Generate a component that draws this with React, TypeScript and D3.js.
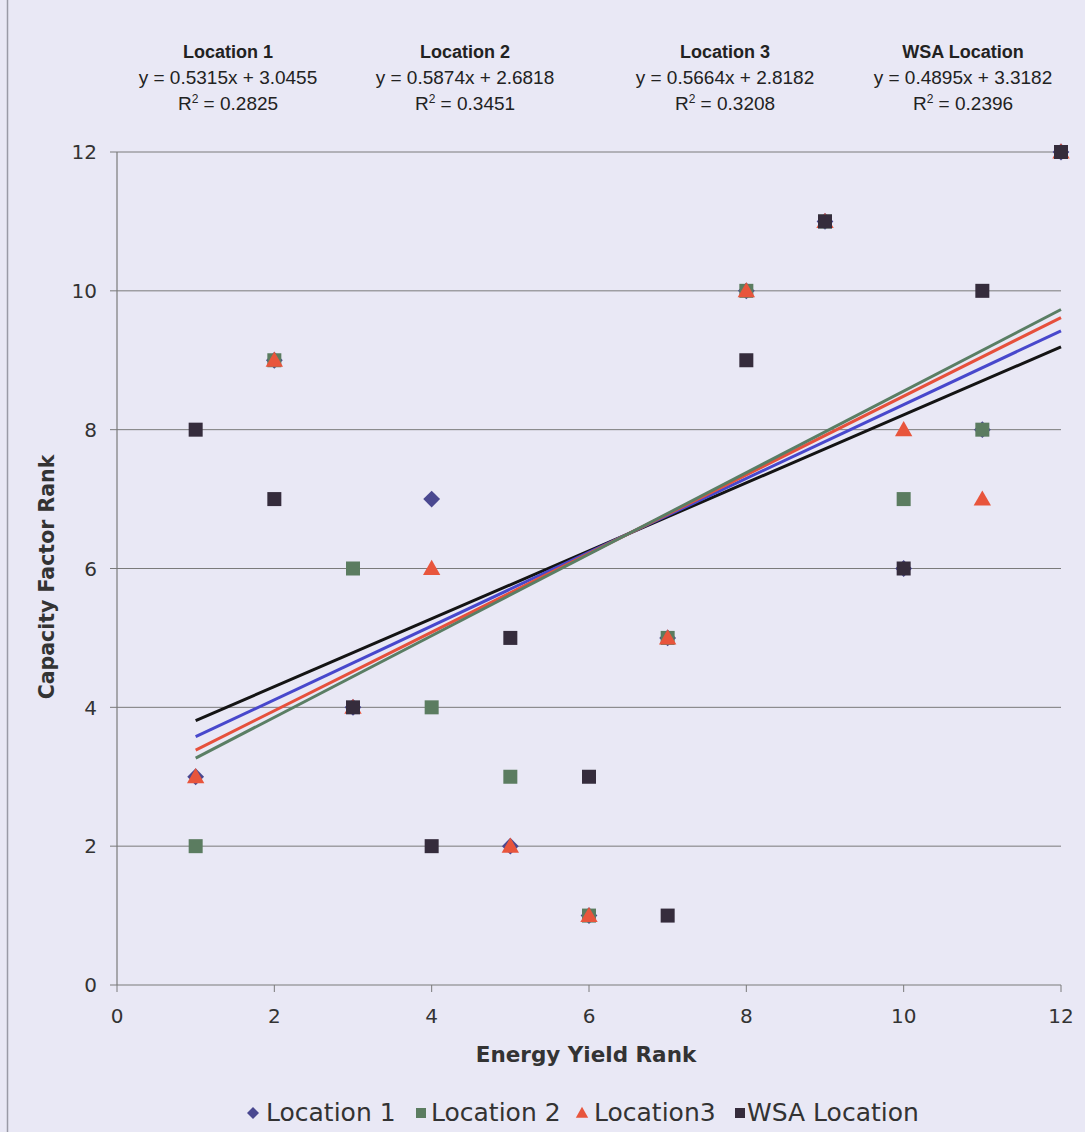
import React from "react";
import * as d3 from "d3";

const xValues = [1, 2, 3, 4, 5, 6, 7, 8, 9, 10, 11, 12];
const location1 = [3, 9, 4, 7, 2, 1, 5, 10, 11, 6, 8, 12];
const location2 = [2, 9, 6, 4, 3, 1, 5, 10, 11, 7, 8, 12];
const location3 = [3, 9, 4, 6, 2, 1, 5, 10, 11, 8, 7, 12];
const wsaLocation = [8, 7, 4, 2, 5, 3, 1, 9, 11, 6, 10, 12];
const seriesNames = ["Location 1", "Location 2", "Location3", "WSA Location"];
const annotationTitles = ["Location 1", "Location 2", "Location 3", "WSA Location"];
const slopes = [0.5315, 0.5874, 0.5664, 0.4895];
const intercepts = [3.0455, 2.6818, 2.8182, 3.3182];
const r2 = ["0.2825", "0.3451", "0.3208", "0.2396"];
const ticks = [0, 2, 4, 6, 8, 10, 12];

const colors = ["#4a4890", "#5b7c60", "#e8553c", "#352c3c"];
const lineColors = ["#4848cc", "#5a7e64", "#e6503c", "#141414"];
const shapes = ["diamond", "square", "triangle", "square"];

export default function App() {
  const W = 1085, H = 1132;
  const x = d3.scaleLinear().domain([0, 12]).range([117, 1061]);
  const y = d3.scaleLinear().domain([0, 12]).range([985, 152]);
  const data = [location1, location2, location3, wsaLocation];
  const font = "Verdana, 'DejaVu Sans', sans-serif";
  const arial = "Arial, 'Liberation Sans', sans-serif";

  const marker = (shape: string, cx: number, cy: number, color: string, s: number, key: string) => {
    if (shape === "square")
      return <rect key={key} x={cx - s / 2} y={cy - s / 2} width={s} height={s} fill={color} />;
    if (shape === "diamond") {
      const r = s * 0.6;
      return <path key={key} d={`M${cx},${cy - r}L${cx + r},${cy}L${cx},${cy + r}L${cx - r},${cy}Z`} fill={color} />;
    }
    const r = s * 0.62;
    return <path key={key} d={`M${cx},${cy - r}L${cx + r},${cy + r * 0.75}L${cx - r},${cy + r * 0.75}Z`} fill={color} />;
  };

  const annX = [228, 465, 725, 963];
  const lineOrder = [3, 0, 2, 1];
  const legendItems = [
    { m: 253, x: 266, label: seriesNames[0] },
    { m: 421, x: 431, label: seriesNames[1] },
    { m: 582, x: 594, label: seriesNames[2] },
    { m: 740, x: 747, label: seriesNames[3] },
  ];

  return (
    <svg width={W} height={H} style={{ position: "absolute", left: 0, top: 0 }}>
      <rect x={0} y={0} width={W} height={H} fill="#e9e8f5" />
      <line x1={7.5} y1={0} x2={7.5} y2={H} stroke="#9a9aa6" strokeWidth={1.5} />
      {ticks.map((t) => (
        <g key={"gy" + t}>
          {t > 0 && <line x1={x(0)} x2={x(12)} y1={y(t)} y2={y(t)} stroke="#7a7a7a" strokeWidth={1} />}
          <line x1={x(0) - 7} x2={x(0)} y1={y(t)} y2={y(t)} stroke="#7a7a7a" strokeWidth={1} />
          <text x={97} y={y(t)} dy="0.36em" textAnchor="end" fontFamily={font} fontSize={20} fill="#333">{t}</text>
        </g>
      ))}
      <line x1={x(0)} x2={x(0)} y1={y(12)} y2={y(0)} stroke="#7a7a7a" strokeWidth={1.2} />
      <line x1={x(0)} x2={x(12)} y1={y(0)} y2={y(0)} stroke="#7a7a7a" strokeWidth={1.2} />
      {ticks.map((t) => (
        <g key={"gx" + t}>
          <line x1={x(t)} x2={x(t)} y1={y(0)} y2={y(0) + 7} stroke="#7a7a7a" strokeWidth={1} />
          <text x={x(t)} y={1023} textAnchor="middle" fontFamily={font} fontSize={20} fill="#333">{t}</text>
        </g>
      ))}
      {data.map((vals, si) =>
        xValues.map((xv, i) => marker(shapes[si], x(xv), y(vals[i]), colors[si], 14, `m${si}-${i}`))
      )}
      {lineOrder.map((si) => (
        <line key={"tl" + si} x1={x(1)} y1={y(slopes[si] * 1 + intercepts[si])} x2={x(12)} y2={y(slopes[si] * 12 + intercepts[si])} stroke={lineColors[si]} strokeWidth={3} />
      ))}
      {annotationTitles.map((t, i) => (
        <g key={"ann" + i} fontFamily={arial} fill="#222" textAnchor="middle">
          <text x={annX[i]} y={58} fontWeight="bold" fontSize={18}>{t}</text>
          <text x={annX[i]} y={84} fontSize={19}>{`y = ${slopes[i]}x + ${intercepts[i]}`}</text>
          <text x={annX[i]} y={110} fontSize={19}>R<tspan fontSize={12} dy={-7}>2</tspan><tspan dy={7}>{` = ${r2[i]}`}</tspan></text>
        </g>
      ))}
      <text x={586} y={1062} textAnchor="middle" fontFamily={font} fontWeight="bold" fontSize={21.5} fill="#333">Energy Yield Rank</text>
      <text transform={`translate(54,577) rotate(-90)`} textAnchor="middle" fontFamily={font} fontWeight="bold" fontSize={20.5} fill="#333">Capacity Factor Rank</text>
      {legendItems.map((it, i) => (
        <g key={"lg" + i}>
          {marker(shapes[i], it.m, 1113, colors[i], 10, "lm" + i)}
          <text x={it.x} y={1112} dy="0.36em" fontFamily={font} fontSize={25} fill="#333">{it.label}</text>
        </g>
      ))}
    </svg>
  );
}
